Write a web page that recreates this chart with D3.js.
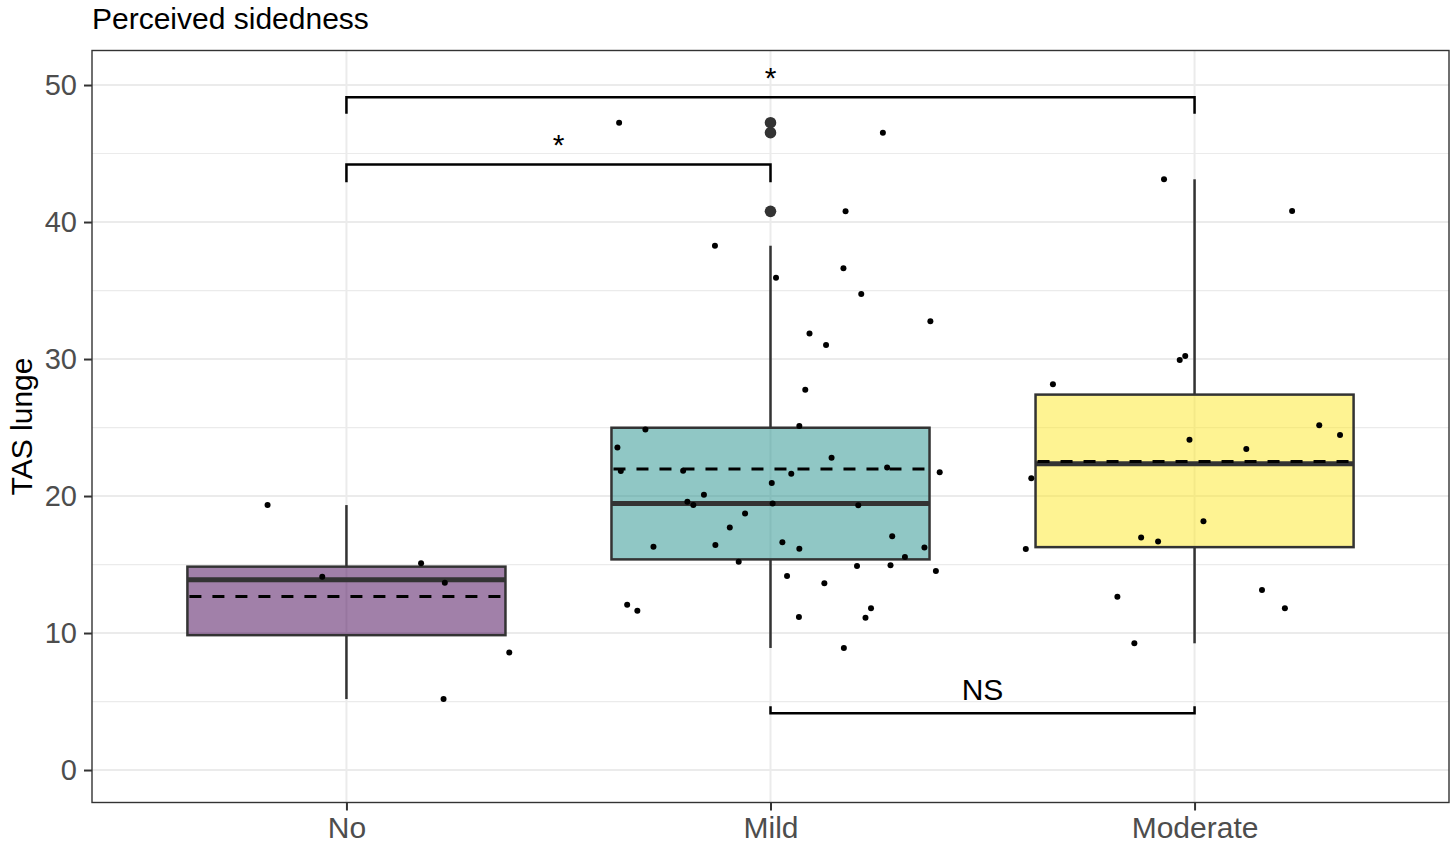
<!DOCTYPE html>
<html>
<head>
<meta charset="utf-8">
<script src="https://cdn.jsdelivr.net/npm/d3@7/dist/d3.min.js"></script>
<style>
  body { margin: 0; background: #fff; }
  svg { display: block; font-family: "Liberation Sans", Arial, sans-serif; }
</style>
</head>
<body>
<svg id="chart" width="1451" height="843"></svg>
<script>
// Groups and values
var categories = ['No', 'Mild', 'Moderate'];

var noValues = [19.34, 14.11, 15.09, 13.67, 8.57, 5.18];
var noJitter = [-0.186, -0.057, 0.176, 0.232, 0.384, 0.229];

var mildValues = [47.25, 46.52, 40.78, 38.27, 35.93, 36.62, 34.74, 32.75, 31.87, 31.02,
    27.76, 23.55, 24.86, 25.11, 21.82, 21.85, 22.80, 22.09, 21.73, 21.63,
    20.95, 20.10, 19.59, 19.34, 19.46, 19.32, 18.73, 17.71, 17.06, 16.30,
    16.42, 16.62, 16.15, 16.25, 15.55, 15.20, 14.89, 14.94, 14.53, 14.16,
    13.63, 12.07, 11.63, 11.80, 11.17, 11.12, 8.91];
var mildJitter = [-0.357, 0.265, 0.177, -0.131, 0.013, 0.172, 0.214, 0.377, 0.092, 0.131,
    0.082, -0.361, -0.295, 0.068, -0.353, -0.206, 0.144, 0.275, 0.399, 0.049,
    0.003, -0.157, -0.196, -0.182, 0.005, 0.207, -0.060, -0.096, 0.287, -0.276,
    -0.130, 0.028, 0.068, 0.363, 0.317, -0.075, 0.204, 0.283, 0.390, 0.039,
    0.127, -0.338, -0.314, 0.237, 0.067, 0.224, 0.173];

var moderateValues = [43.12, 40.80, 29.93, 30.22, 28.15, 25.16, 24.45, 24.11, 23.43,
    21.29, 18.15, 16.98, 16.69, 16.13, 12.65, 13.14, 11.80, 9.25];
var moderateJitter = [-0.072, 0.230, -0.035, -0.022, -0.334, 0.294, 0.343, -0.012, 0.122,
    -0.385, 0.021, -0.126, -0.086, -0.398, -0.182, 0.159, 0.213, -0.142];

var yTicks = [0, 10, 20, 30, 40, 50];

// Significance brackets
var bracketFrom = ['No', 'No', 'Mild'];
var bracketTo = ['Moderate', 'Mild', 'Moderate'];
var bracketY = [49.1, 44.2, 4.15];
var bracketTip = [47.9, 42.9, 4.65];
var bracketLabels = ['*', '*', 'NS'];

var titleText = 'Perceived sidedness';
var yTitle = 'TAS lunge';

var fills = ['#440154', '#21908C', '#FDE725'];

// Layout
var svg = d3.select('#chart');
var pLeft = 92, pRight = 1449, pTop = 50.5, pBottom = 802.5;

var x = d3.scalePoint()
    .domain(categories)
    .range([pLeft, pRight])
    .padding(0.6);
var step = x.step();
var boxWidth = step * 0.75;

var y = d3.scaleLinear()
    .domain([-2.37, 52.52])
    .range([pBottom, pTop]);

var groups = [
    { key: 'No', values: noValues, jitter: noJitter },
    { key: 'Mild', values: mildValues, jitter: mildJitter },
    { key: 'Moderate', values: moderateValues, jitter: moderateJitter }
];

// Box statistics, same quantile rule as R
groups.forEach(function (g) {
    var s = g.values.slice().sort(d3.ascending);
    g.q1 = d3.quantile(s, 0.25);
    g.med = d3.quantile(s, 0.5);
    g.q3 = d3.quantile(s, 0.75);
    g.mean = d3.mean(s);
    var iqr = g.q3 - g.q1;
    var inside = s.filter(function (v) { return v >= g.q1 - 1.5 * iqr && v <= g.q3 + 1.5 * iqr; });
    g.lo = d3.min(inside);
    g.hi = d3.max(inside);
    g.outliers = s.filter(function (v) { return v < g.lo || v > g.hi; });
});

// Grid
var grid = svg.append('g');
var minor = [];
for (var i = 0; i < yTicks.length - 1; i++) minor.push((yTicks[i] + yTicks[i + 1]) / 2);
grid.selectAll('.minor').data(minor).enter().append('line')
    .attr('x1', pLeft).attr('x2', pRight)
    .attr('y1', function (d) { return y(d); }).attr('y2', function (d) { return y(d); })
    .attr('stroke', '#EBEBEB').attr('stroke-width', 1.2);
grid.selectAll('.major').data(yTicks).enter().append('line')
    .attr('x1', pLeft).attr('x2', pRight)
    .attr('y1', function (d) { return y(d); }).attr('y2', function (d) { return y(d); })
    .attr('stroke', '#EBEBEB').attr('stroke-width', 2);
grid.selectAll('.vmajor').data(categories).enter().append('line')
    .attr('x1', function (d) { return x(d); }).attr('x2', function (d) { return x(d); })
    .attr('y1', pTop).attr('y2', pBottom)
    .attr('stroke', '#EBEBEB').attr('stroke-width', 2);

// Boxplots
var box = svg.append('g').selectAll('g').data(groups).enter().append('g');

box.append('line')
    .attr('x1', function (d) { return x(d.key); }).attr('x2', function (d) { return x(d.key); })
    .attr('y1', function (d) { return y(d.hi); }).attr('y2', function (d) { return y(d.q3); })
    .attr('stroke', '#333').attr('stroke-width', 2.5);
box.append('line')
    .attr('x1', function (d) { return x(d.key); }).attr('x2', function (d) { return x(d.key); })
    .attr('y1', function (d) { return y(d.q1); }).attr('y2', function (d) { return y(d.lo); })
    .attr('stroke', '#333').attr('stroke-width', 2.5);
box.append('rect')
    .attr('x', function (d) { return x(d.key) - boxWidth / 2; })
    .attr('width', boxWidth)
    .attr('y', function (d) { return y(d.q3); })
    .attr('height', function (d) { return y(d.q1) - y(d.q3); })
    .attr('fill', function (d, i) { return fills[i]; })
    .attr('fill-opacity', 0.5)
    .attr('stroke', '#333').attr('stroke-width', 2.5);
box.append('line')
    .attr('x1', function (d) { return x(d.key) - boxWidth / 2; })
    .attr('x2', function (d) { return x(d.key) + boxWidth / 2; })
    .attr('y1', function (d) { return y(d.med); }).attr('y2', function (d) { return y(d.med); })
    .attr('stroke', '#333').attr('stroke-width', 5);
box.selectAll('circle.out')
    .data(function (d) { return d.outliers.map(function (v) { return { key: d.key, v: v }; }); })
    .enter().append('circle')
    .attr('cx', function (d) { return x(d.key); })
    .attr('cy', function (d) { return y(d.v); })
    .attr('r', 5.8)
    .attr('fill', '#333');

// Mean lines
box.append('line')
    .attr('x1', function (d) { return x(d.key) - boxWidth / 2 + 2; })
    .attr('x2', function (d) { return x(d.key) + boxWidth / 2 - 2; })
    .attr('y1', function (d) { return y(d.mean); }).attr('y2', function (d) { return y(d.mean); })
    .attr('stroke', '#000').attr('stroke-width', 3)
    .attr('stroke-dasharray', '12,11');

// Jittered points
var pts = [];
groups.forEach(function (g) {
    g.values.forEach(function (v, i) { pts.push({ key: g.key, v: v, j: g.jitter[i] }); });
});
svg.append('g').selectAll('circle').data(pts).enter().append('circle')
    .attr('cx', function (d) { return x(d.key) + d.j * step; })
    .attr('cy', function (d) { return y(d.v); })
    .attr('r', 3)
    .attr('fill', '#000');

// Brackets
var br = svg.append('g').selectAll('g').data(bracketLabels).enter().append('g');
br.append('path')
    .attr('d', function (d, i) {
        var x0 = x(bracketFrom[i]), x1 = x(bracketTo[i]);
        var yb = y(bracketY[i]), yt = y(bracketTip[i]);
        return 'M' + x0 + ',' + yt + 'V' + yb + 'H' + x1 + 'V' + yt;
    })
    .attr('fill', 'none').attr('stroke', '#000').attr('stroke-width', 2.5);
br.append('text')
    .attr('x', function (d, i) { return (x(bracketFrom[i]) + x(bracketTo[i])) / 2; })
    .attr('y', function (d, i) { return y(bracketY[i]) - (d === 'NS' ? 13 : 9); })
    .attr('text-anchor', 'middle')
    .attr('font-size', 30)
    .attr('fill', '#000')
    .text(function (d) { return d; });

// Panel border
svg.append('rect')
    .attr('x', pLeft).attr('y', pTop)
    .attr('width', pRight - pLeft).attr('height', pBottom - pTop)
    .attr('fill', 'none').attr('stroke', '#333').attr('stroke-width', 1.4);

// Axes
var yAxis = svg.append('g')
    .attr('transform', 'translate(' + pLeft + ',0)')
    .call(d3.axisLeft(y).tickValues(yTicks).tickSize(8).tickPadding(7));
var xAxis = svg.append('g')
    .attr('transform', 'translate(0,' + pBottom + ')')
    .call(d3.axisBottom(x).tickSize(8).tickPadding(6));
[yAxis, xAxis].forEach(function (a) {
    a.select('.domain').remove();
    a.selectAll('.tick line').attr('stroke', '#333').attr('stroke-width', 2);
    a.selectAll('.tick text')
        .attr('fill', '#4D4D4D')
        .attr('font-size', a === yAxis ? 29 : 30)
        .attr('font-family', '"Liberation Sans", Arial, sans-serif');
});

// Titles
svg.append('text')
    .attr('x', pLeft).attr('y', 29)
    .attr('font-size', 30)
    .attr('fill', '#000')
    .text(titleText);
svg.append('text')
    .attr('transform', 'translate(32,' + ((pTop + pBottom) / 2) + ') rotate(-90)')
    .attr('text-anchor', 'middle')
    .attr('font-size', 30)
    .attr('fill', '#000')
    .text(yTitle);
</script>
</body>
</html>
